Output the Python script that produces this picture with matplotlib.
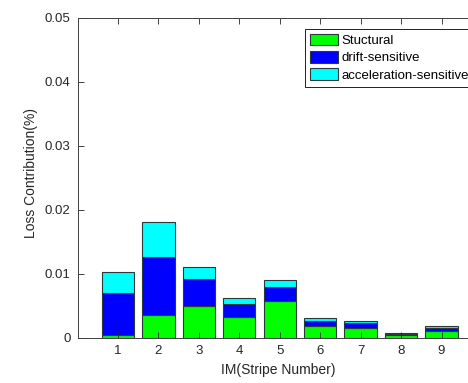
import matplotlib
matplotlib.use("Agg")
import matplotlib.pyplot as plt
import numpy as np

plt.rcParams['font.family'] = ['Liberation Sans', 'DejaVu Sans']

stripes = [1, 2, 3, 4, 5, 6, 7, 8, 9]
structural = [0.00047, 0.00364, 0.0050, 0.00333, 0.00578, 0.00188, 0.0016, 0.0004, 0.0011]
drift = [0.00651, 0.00906, 0.00417, 0.00195, 0.00224, 0.00082, 0.0008, 0.0002, 0.0005]
accel = [0.00338, 0.00547, 0.00188, 0.00092, 0.00112, 0.00038, 0.0003, 0.0002, 0.0003]
labels = ['Stuctural', 'drift-sensitive', 'acceleration-sensitive']
colors = ['#00ff00', '#0000ff', '#00ffff']

W, H = 468, 383
fig = plt.figure(figsize=(W / 100, H / 100), dpi=100)
left, right, bottom, top = 77.5, 482, 338, 18
ax = fig.add_axes([left / W, (H - bottom) / H, (right - left) / W, (bottom - top) / H])

s = np.array(structural)
d = np.array(drift)
a = np.array(accel)
ec = '#2a3a3a'
lw = 0.8
b1 = ax.bar(stripes, s, width=0.8, color=colors[0], edgecolor=ec, linewidth=lw, label=labels[0])
b2 = ax.bar(stripes, d, width=0.8, bottom=s, color=colors[1], edgecolor=ec, linewidth=lw, label=labels[1])
b3 = ax.bar(stripes, a, width=0.8, bottom=s + d, color=colors[2], edgecolor=ec, linewidth=lw, label=labels[2])

ax.set_xlim(0, 10)
ax.set_ylim(0, 0.05)
ax.set_xticks(stripes)
ax.set_yticks([0, 0.01, 0.02, 0.03, 0.04, 0.05])
ax.set_yticklabels(['0', '0.01', '0.02', '0.03', '0.04', '0.05'])
ax.tick_params(direction='in', top=True, right=True, length=4, width=0.6,
               labelsize=9.5, colors='#262626', pad=5)
for sp in ax.spines.values():
    sp.set_color('#404040')
    sp.set_linewidth(0.7)

ax.set_xlabel('IM(Stripe Number)', fontsize=10, color='#262626')
ax.set_ylabel('Loss Contribution(%)', fontsize=10, color='#262626')
ax.xaxis.set_label_coords((278.5 - left) / (right - left), -(370 - bottom) / (bottom - top), transform=ax.transAxes)
ax.yaxis.set_label_coords(-(left - 31) / (right - left), (bottom - 173) / (bottom - top), transform=ax.transAxes)
ax.xaxis.label.set_va('center')
ax.yaxis.label.set_va('center')

leg = fig.legend(handles=[b1, b2, b3], labels=labels, loc='upper left',
                 bbox_to_anchor=(305 / W, (H - 28.5) / H), borderaxespad=0,
                 fontsize=9.5, frameon=True, fancybox=False, framealpha=1,
                 edgecolor='#222222', borderpad=0.38, handlelength=2.15,
                 handleheight=1.0, handletextpad=0.2, labelspacing=0.3)
leg.get_frame().set_linewidth(0.7)

fig.savefig('out.png', dpi=100)
